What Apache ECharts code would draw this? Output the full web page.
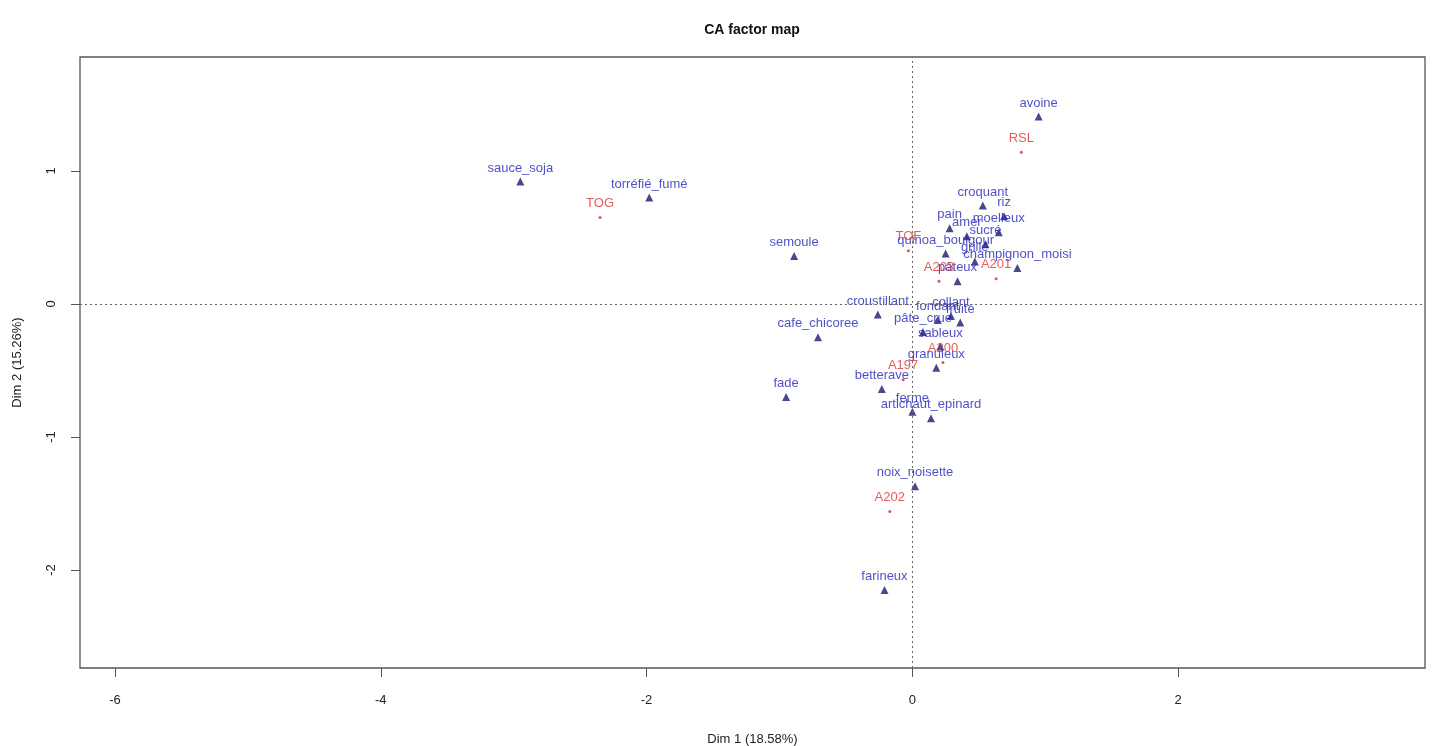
<!DOCTYPE html>
<html>
<head>
<meta charset="utf-8">
<title>CA factor map</title>
<script src="https://cdn.jsdelivr.net/npm/echarts@6/dist/echarts.min.js"></script>
<style>
  html, body { margin: 0; padding: 0; background: #ffffff; }
  #chart { width: 1435px; height: 746px; }
</style>
</head>
<body>
<div id="chart"></div>
<script>
// Column points (descriptors), drawn as triangles
const colNames = ['avoine', 'sauce_soja', 'torréfié_fumé', 'semoule', 'croustillant',
  'cafe_chicoree', 'fade', 'betterave', 'ferme', 'artichaut_epinard', 'noix_noisette',
  'farineux', 'croquant', 'riz', 'pain', 'amer', 'moelleux', 'sucré', 'quinoa_boulgour',
  'grillé', 'champignon_moisi', 'pâteux', 'collant', 'fondant', 'fruité', 'pâte_crue',
  'sableux', 'granuleux'];
const colDim1 = [0.95, -2.95, -1.98, -0.89, -0.26, -0.71, -0.95, -0.23, 0.00, 0.14, 0.02,
  -0.21, 0.53, 0.69, 0.28, 0.41, 0.65, 0.55, 0.25, 0.47, 0.79, 0.34, 0.29, 0.19, 0.36, 0.08,
  0.21, 0.18];
const colDim2 = [1.41, 0.92, 0.80, 0.36, -0.08, -0.25, -0.70, -0.64, -0.81, -0.86, -1.37,
  -2.15, 0.74, 0.66, 0.57, 0.51, 0.54, 0.45, 0.38, 0.32, 0.27, 0.17, -0.09, -0.12, -0.14, -0.21,
  -0.32, -0.48];

// Row points (products), drawn as small dots
const rowNames = ['RSL', 'TOG', 'TOF', 'A203', 'A201', 'A197', 'A200', 'A202'];
const rowDim1 = [0.82, -2.35, -0.03, 0.20, 0.63, -0.07, 0.23, -0.17];
const rowDim2 = [1.14, 0.65, 0.40, 0.17, 0.19, -0.57, -0.44, -1.56];

// Axis ticks
const xTicks = [-6, -4, -2, 0, 2];
const yTicks = [-2, -1, 0, 1];

const FONT = '"Liberation Sans", Arial, sans-serif';

const colData = colNames.map((n, i) => [colDim1[i], colDim2[i], n]);
const rowData = rowNames.map((n, i) => [rowDim1[i], rowDim2[i], n]);

const chart = echarts.init(document.getElementById('chart'), null, { renderer: 'canvas' });

chart.setOption({
  animation: false,
  backgroundColor: '#ffffff',
  graphic: [{
    type: 'text',
    x: 752, y: 30,
    style: {
      text: 'CA factor map',
      font: 'bold 14px ' + FONT,
      fill: '#111',
      align: 'center',
      verticalAlign: 'middle'
    }
  }],
  grid: {
    left: 80, right: 10, top: 57, bottom: 78,
    outerBoundsMode: 'none',
    containLabel: false,
    show: true,
    borderColor: '#555',
    borderWidth: 1.3,
    backgroundColor: 'transparent'
  },
  xAxis: {
    type: 'value',
    position: 'bottom',
    min: -6.263, max: 3.857,
    name: 'Dim 1 (18.58%)',
    nameLocation: 'middle',
    nameGap: 65,
    nameTextStyle: { fontFamily: FONT, fontSize: 13, color: '#222' },
    axisLine: { show: false, onZero: false },
    axisTick: { show: true, length: 9, customValues: xTicks, lineStyle: { color: '#555' } },
    axisLabel: { customValues: xTicks, margin: 26, fontFamily: FONT, fontSize: 13, color: '#222' },
    splitLine: { show: false }
  },
  yAxis: {
    type: 'value',
    position: 'left',
    min: -2.737, max: 1.857,
    name: 'Dim 2 (15.26%)',
    nameLocation: 'middle',
    nameGap: 56,
    nameRotate: 90,
    nameTextStyle: { fontFamily: FONT, fontSize: 13, color: '#222' },
    axisLine: { show: false, onZero: false },
    axisTick: { show: true, length: 9, customValues: yTicks, lineStyle: { color: '#555' } },
    axisLabel: { customValues: yTicks, rotate: 90, margin: 22, fontFamily: FONT, fontSize: 13, color: '#222' },
    splitLine: { show: false }
  },
  series: [
    {
      name: 'columns',
      type: 'scatter',
      symbol: 'triangle',
      symbolSize: 8,
      itemStyle: { color: '#1a1a6e' },
      data: colData,
      label: {
        show: true,
        position: 'top',
        distance: 3,
        formatter: p => p.data[2],
        fontFamily: FONT,
        fontSize: 13,
        color: '#2424b8'
      },
      markLine: {
        silent: true,
        symbol: 'none',
        label: { show: false },
        lineStyle: { type: [2, 3], color: '#666', width: 1 },
        data: [{ xAxis: 0 }, { yAxis: 0 }]
      },
      z: 3
    },
    {
      name: 'rows',
      type: 'scatter',
      symbol: 'circle',
      symbolSize: 3,
      itemStyle: { color: '#c83030' },
      data: rowData,
      label: {
        show: true,
        position: 'top',
        distance: 6,
        formatter: p => p.data[2],
        fontFamily: FONT,
        fontSize: 13,
        color: '#e03333'
      },
      z: 4
    }
  ]
});
</script>
</body>
</html>
